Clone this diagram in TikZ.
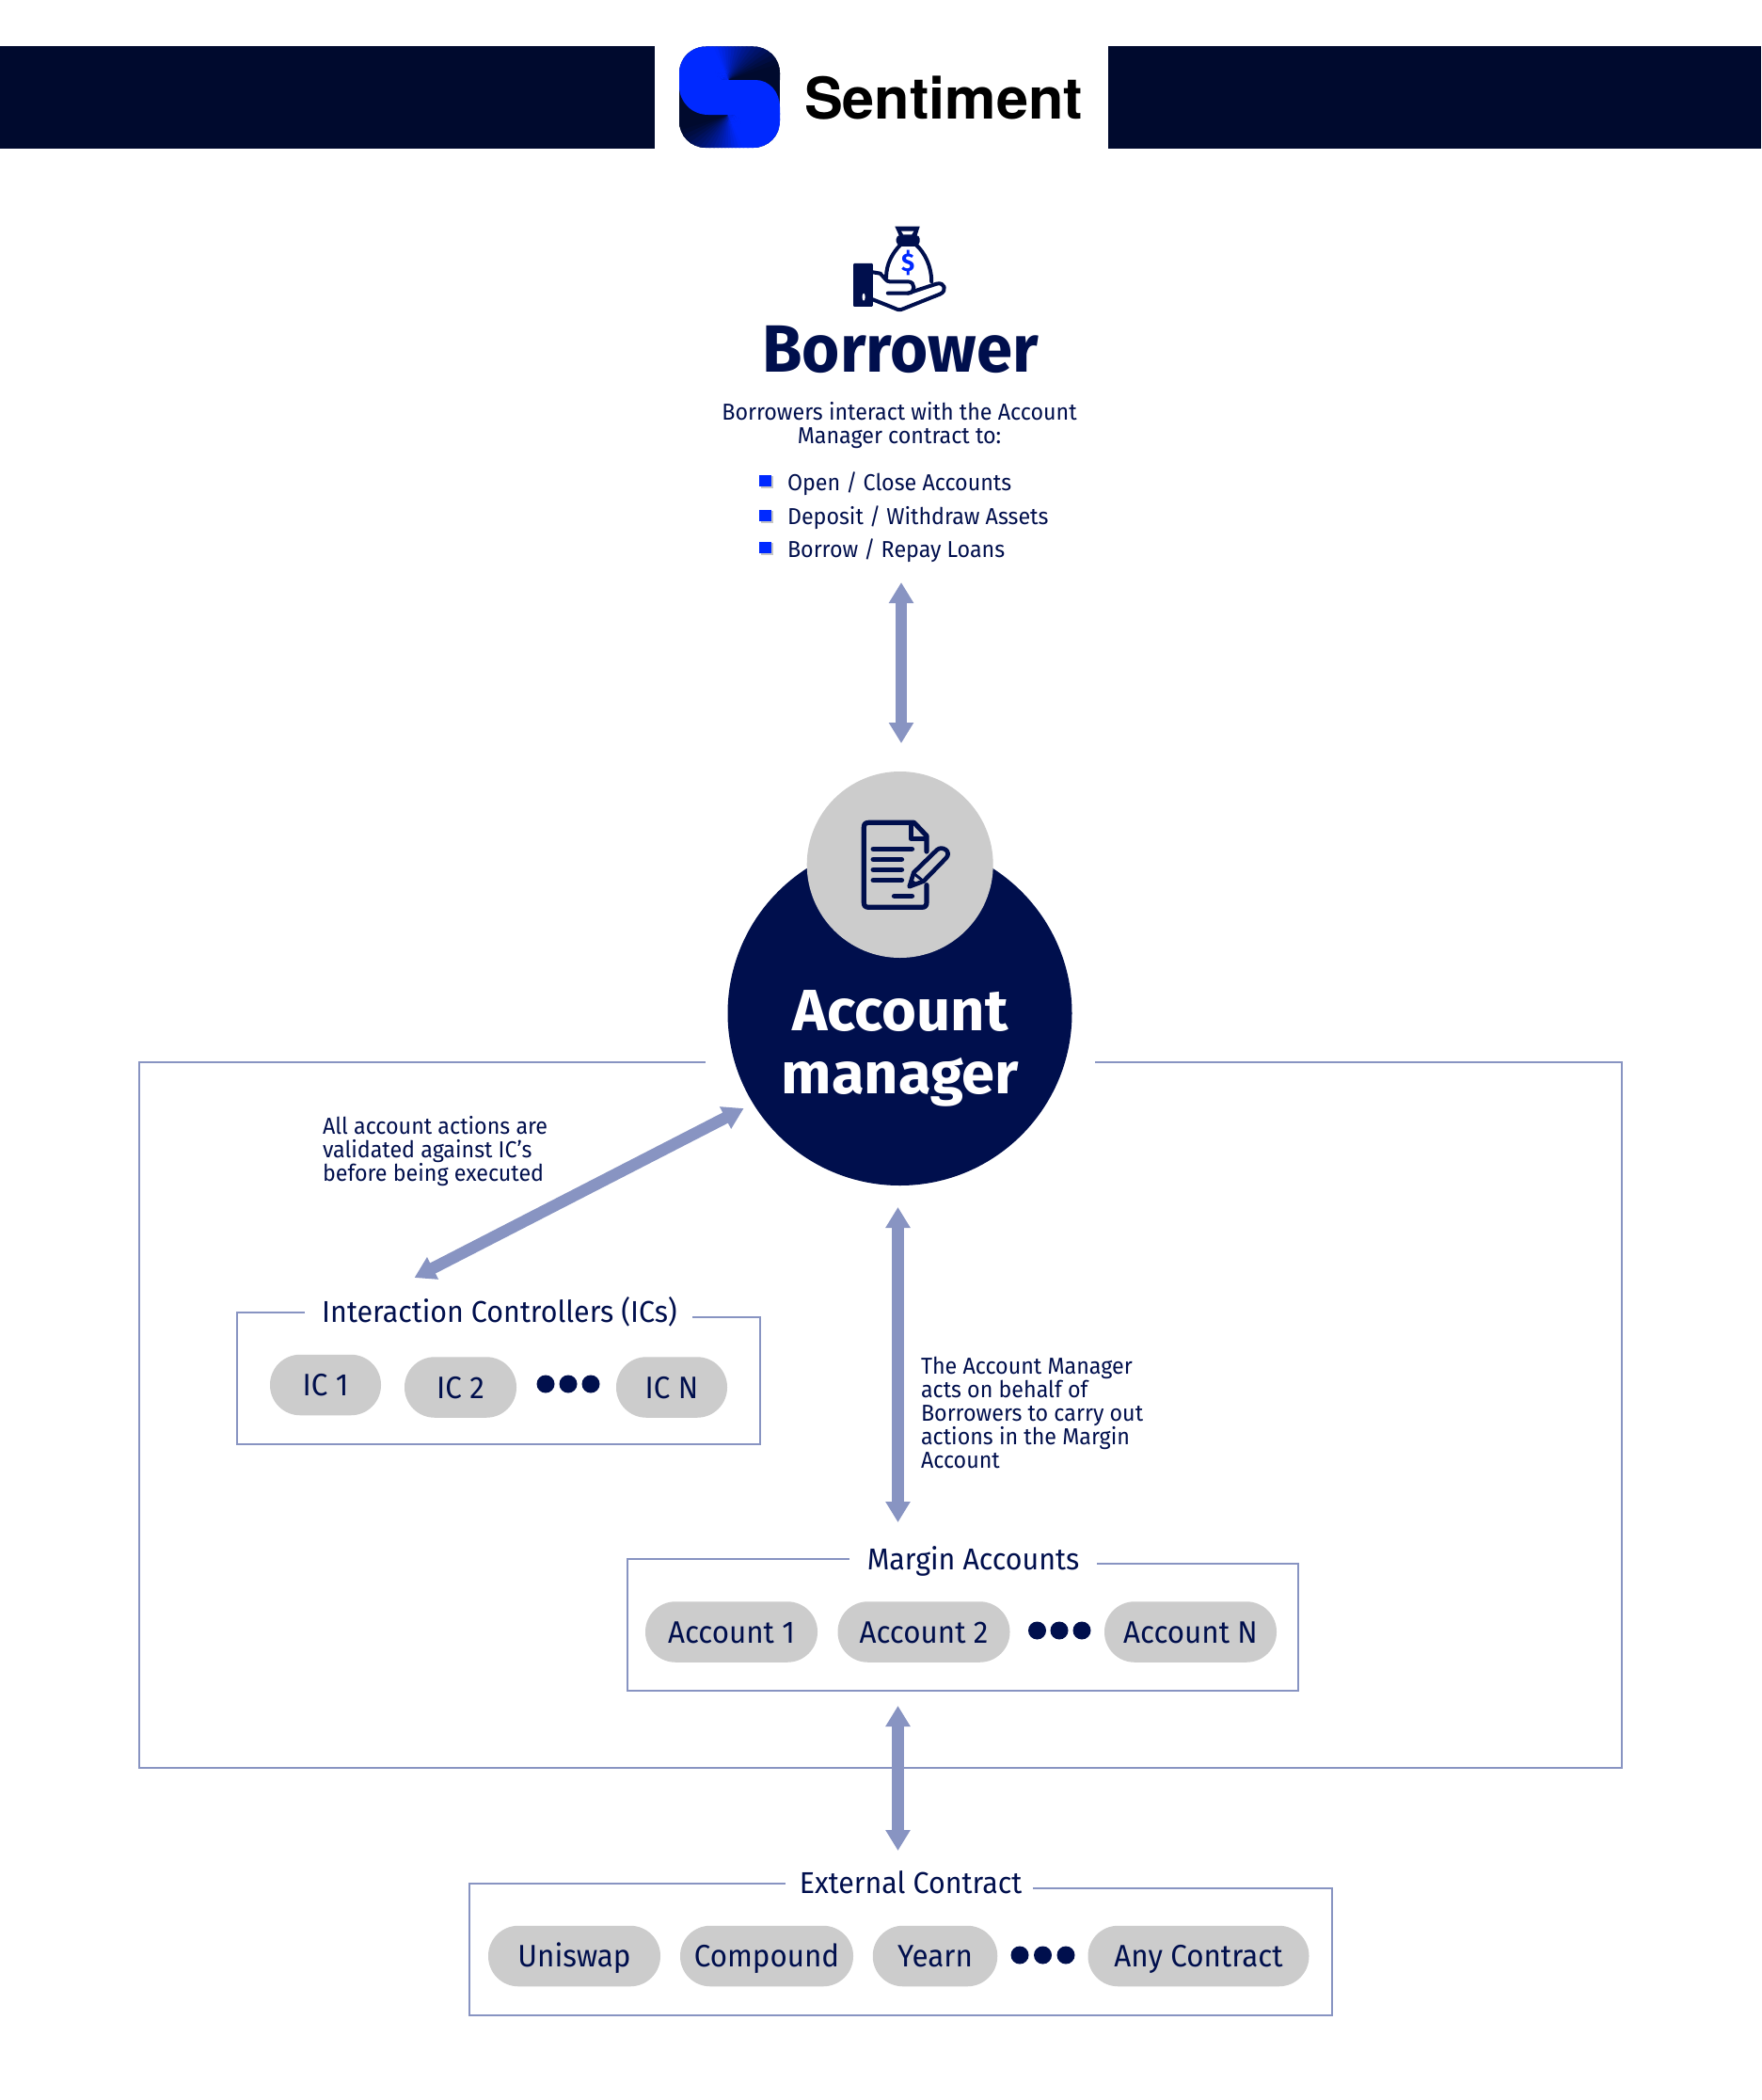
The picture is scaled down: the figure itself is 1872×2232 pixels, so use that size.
\documentclass[tikz,border=0pt]{standalone}
\usepackage{fontspec}
\usetikzlibrary{arrows.meta}
\setmainfont{Fira Sans}
\newfontfamily\bodyfont[FakeStretch=0.95]{Fira Sans}
\newfontfamily\titlefont[FakeStretch=0.97]{Fira Sans}
\newfontfamily\amfont[FakeStretch=1.02]{Fira Sans}
\newfontfamily\logofont{TeX Gyre Heros}
\definecolor{navy}{HTML}{000F4D}
\definecolor{bar}{HTML}{000A2E}
\definecolor{blueA}{HTML}{0029FF}
\definecolor{frameC}{HTML}{8894C2}
\definecolor{pillC}{HTML}{CCCCCC}
\tikzset{
  x=1pt,y=-1pt,
  every node/.style={inner sep=0pt,outer sep=0pt,text=navy},
  small/.style={anchor=base west,font=\bodyfont\fontsize{24.5}{25}\selectfont},
  head/.style={anchor=base,font=\bodyfont\fontsize{32}{32}\selectfont},
  titlebig/.style={anchor=base,font=\titlefont\bfseries\fontsize{71}{71}\selectfont},
  amtext/.style={anchor=base,text=white,font=\amfont\bfseries\fontsize{62}{62}\selectfont},
  pill/.style={fill=pillC,rounded corners=32pt,minimum height=64.5pt,text height=23pt,text depth=0pt,align=center,font=\bodyfont\fontsize{33}{33}\selectfont},
  dotn/.style={circle,fill=navy,minimum size=19pt},
  frameL/.style={draw=frameC,line width=2pt},
  dbl/.style={draw=frameC,line width=12.5pt,{Triangle[width=25pt,length=22pt]}-{Triangle[width=25pt,length=22pt]}},
  ink/.style={draw=navy,line width=4.6pt,line cap=round,line join=round},
  bul/.style={fill=blueA,minimum size=12.5pt},
}
\begin{document}
\begin{tikzpicture}
\useasboundingbox (0,0) rectangle (1872,2232);
\fill[white] (0,0) rectangle (1872,2232);
% header
\fill[bar] (0,49) rectangle (696,158);
\fill[bar] (1178,49) rectangle (1872,158);
% logo
\begin{scope}
  \clip[rounded corners=28pt] (722,49.5) rectangle (829,157);
  \fill[bar] (722,49.5) rectangle (829,157);
  \begin{scope}[shift={(774,85)}]
    \foreach \a in {0,6,...,174}{
      \pgfmathtruncatemacro\t{min(100,max(0,(\a-15)/95*100))}
      \fill[blueA!\t!bar] (0,0) -- (\a:120pt) -- (\a+8:120pt) -- cycle;
    }
  \end{scope}
  \begin{scope}[shift={(774,122)}]
    \foreach \a in {180,186,...,354}{
      \pgfmathtruncatemacro\t{min(100,max(0,(\a-195)/95*100))}
      \fill[blueA!\t!bar] (0,0) -- (\a:120pt) -- (\a+8:120pt) -- cycle;
    }
  \end{scope}
  \fill[blueA] (715,85) -- (803,85) .. controls (818,85) and (829,98) .. (829,114) -- (835,122) -- (753,122) .. controls (735,122) and (722,108) .. (722,92) -- cycle;
\end{scope}
\node[anchor=base west,text=black,font=\logofont\bfseries\fontsize{61.2}{61}\selectfont] (brand) at (855,126) {Sentiment};
% borrower icon (coordinates of the zoomed crop)
\begin{scope}[shift={(660,30)},x=0.357pt,y=-0.3333pt]
  \fill[navy,rounded corners=1pt] (692,750) rectangle (750,888);
  \fill[white] (723,857) ellipse (1.6pt and 4pt);
  \draw[ink,line width=4pt] (750,778) -- (772,782) .. controls (785,795) and (790,808) .. (800,808) -- (855,808) .. controls (878,808) and (878,845) .. (855,845) -- (795,845);
  \draw[ink,line width=4pt] (855,845) -- (940,815) .. controls (965,808) and (972,838) .. (950,848) -- (840,895) .. controls (830,900) and (825,898) .. (815,893) -- (750,865);
  \draw[ink,line width=4pt] (790,795) .. controls (790,750) and (810,715) .. (833,690);
  \draw[ink,line width=4pt] (925,808) .. controls (925,760) and (905,715) .. (878,690);
  \draw[ink,line width=4pt] (833,690) -- (878,690);
  \fill[navy,rounded corners=4pt] (820,660) rectangle (890,692);
  \fill[navy] (816,632) -- (890,632) -- (880,665) -- (830,665) -- cycle;
  \fill[white] (835,647) -- (872,647) -- (866,658) -- (841,658) -- cycle;
  \node[text=blueA,font=\bodyfont\bfseries\fontsize{27}{27}\selectfont] (dollar) at (855,747) {\$};
\end{scope}
% borrower texts
\node[titlebig] (borrower) at (957,395) {Borrower};
\node[small,anchor=base] (b1) at (956,446) {Borrowers interact with the Account};
\node[small,anchor=base] (b2) at (956,471) {Manager contract to:};
\foreach \n/\y/\t in {1/521/{Open / Close Accounts},2/557/{Deposit / Withdraw Assets},3/592/{Borrow / Repay Loans}}{
  \node[small] (li\n) at (837,\y) {\t};
}
\foreach \n/\y in {1/511,2/548,3/582}{
  \fill[gray!45] (808.5,\y-5) rectangle (822,\y+7.5);
  \node[bul] (sq\n) at (813.5,\y) {};
}
% frames
\draw[frameL] (750,1129) -- (148,1129) -- (148,1879) -- (1724,1879) -- (1724,1129) -- (1164,1129);
\draw[frameL] (324,1395) -- (252,1395) -- (252,1535) -- (808,1535) -- (808,1400) -- (736,1400);
\draw[frameL] (903,1657) -- (667,1657) -- (667,1797) -- (1380,1797) -- (1380,1662) -- (1166,1662);
\draw[frameL] (835,2002) -- (499,2002) -- (499,2142) -- (1416,2142) -- (1416,2007) -- (1098,2007);
% account manager
\node[circle,fill=navy,minimum size=366pt] (am) at (956.5,1077) {};
\node[circle,fill=pillC,minimum size=198pt] (amtop) at (956.7,919) {};
\node[amtext] (am1) at (957,1095) {Account};
\node[amtext] (am2) at (957,1162) {manager};
\begin{scope}[shift={(760,810)},x=0.3333pt,y=-0.3333pt]
  \draw[ink,line width=5.2pt] (675,285) -- (675,235) -- (635,193) -- (490,193) .. controls (480,193) and (475,198) .. (475,208) -- (475,448) .. controls (475,458) and (480,463) .. (490,463) -- (660,463) .. controls (670,463) and (675,458) .. (675,448) -- (675,392);
  \draw[ink,line width=4.6pt] (625,195) -- (625,245) -- (672,245);
  \foreach \xa/\xb/\yy in {505/628/277,505/595/310,505/595/343,505/595/377,572/628/427}{
    \draw[ink,line width=5.6pt] (\xa,\yy) -- (\xb,\yy);
  }
  \draw[ink,line width=4.6pt,fill=pillC] (620,397) -- (634,352) -- (708,280) .. controls (725,265) and (755,285) .. (738,305) -- (665,380) -- cycle;
  \draw[ink,line width=3pt] (634,355) -- (665,380);
  \fill[navy] (620,397) -- (626,372) -- (643,385) -- cycle;
\end{scope}
% arrows
\coordinate (aTop) at (958,619);
\coordinate (aBot) at (958,790);
\draw[dbl] (aTop) -- (aBot);
\coordinate (dTop) at (790.6,1178);
\coordinate (dBot) at (440.5,1358);
\draw[dbl] (dTop) -- (dBot);
\coordinate (mTop) at (954.5,1283);
\coordinate (mBot) at (954.5,1618);
\draw[dbl] (mTop) -- (mBot);
\coordinate (eTop) at (954.5,1813);
\coordinate (eBot) at (954.5,1967);
\draw[dbl] (eTop) -- (eBot);
% notes
\node[small] (n1) at (343,1205) {All account actions are};
\node[small] (n2) at (343,1230) {validated against IC’s};
\node[small] (n3) at (343,1255) {before being executed};
\node[small] (m1) at (979,1460) {The Account Manager};
\node[small] (m2) at (979,1485) {acts on behalf of};
\node[small] (m3) at (979,1510) {Borrowers to carry out};
\node[small] (m4) at (979,1535) {actions in the Margin};
\node[small] (m5) at (979,1560) {Account};
% groups
\node[head] (icT) at (531,1405) {Interaction Controllers (ICs)};
\node[pill,minimum width=118pt] (ic1) at (346,1472) {IC 1};
\node[pill,minimum width=119pt] (ic2) at (489.5,1474.5) {IC 2};
\node[pill,minimum width=118pt] (icn) at (714,1474.5) {IC N};
\node[dotn] (d1) at (580,1471) {};
\node[dotn] (d2) at (604,1471) {};
\node[dotn] (d3) at (628,1471) {};
\node[head] (maT) at (1034.5,1668) {Margin Accounts};
\node[pill,minimum width=183pt] (ac1) at (777.5,1734.5) {Account 1};
\node[pill,minimum width=183pt] (ac2) at (982,1734.5) {Account 2};
\node[pill,minimum width=183pt] (acn) at (1265.5,1734.5) {Account N};
\node[dotn] (d4) at (1102.5,1733) {};
\node[dotn] (d5) at (1126,1733) {};
\node[dotn] (d6) at (1150,1733) {};
\node[head] (exT) at (968,2012) {External Contract};
\node[pill,minimum width=183pt] (e1) at (610.5,2079) {Uniswap};
\node[pill,minimum width=184pt] (e2) at (815,2079) {Compound};
\node[pill,minimum width=132.5pt] (e3) at (994,2079) {Yearn};
\node[pill,minimum width=235pt] (e4) at (1274,2079) {Any Contract};
\node[dotn] (d7) at (1084,2078) {};
\node[dotn] (d8) at (1108.5,2078) {};
\node[dotn] (d9) at (1133,2078) {};
\end{tikzpicture}
\end{document}
